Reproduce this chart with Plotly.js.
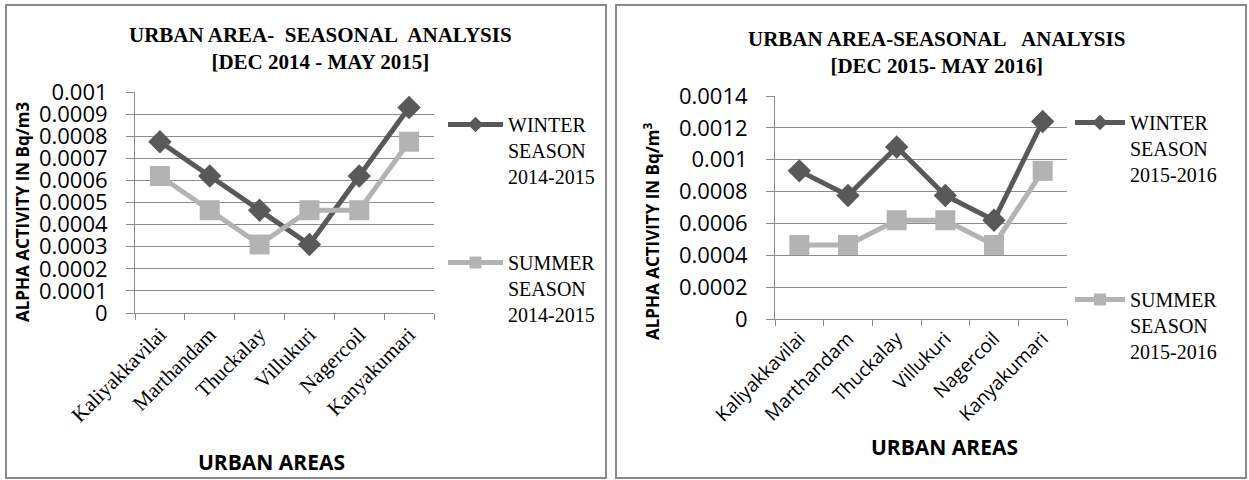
<!DOCTYPE html>
<html>
<head>
<meta charset="utf-8">
<script src="https://cdn.plot.ly/plotly-3.0.1.min.js"></script>
<style>html,body{margin:0;padding:0;background:#fff;}#chart{width:1249px;height:480px;}</style>
</head>
<body>
<div id="chart"></div>
<script>
// ---- data ----
var areas = ['Kaliyakkavilai', 'Marthandam', 'Thuckalay', 'Villukuri', 'Nagercoil', 'Kanyakumari'];
var winter1415 = [0.000775, 0.00062, 0.000465, 0.00031, 0.00062, 0.00093];
var summer1415 = [0.00062, 0.000465, 0.00031, 0.000465, 0.000465, 0.000775];
var winter1516 = [0.00093, 0.000775, 0.00108, 0.000775, 0.00062, 0.00124];
var summer1516 = [0.000465, 0.000465, 0.00062, 0.00062, 0.000465, 0.00093];
var names1 = ['WINTER<br>SEASON<br>2014-2015', 'SUMMER<br>SEASON<br>2014-2015'];
var names2 = ['WINTER<br>SEASON<br>2015-2016', 'SUMMER<br>SEASON<br>2015-2016'];
var titles = ['URBAN AREA-\u00a0 SEASONAL\u00a0 ANALYSIS<br>[DEC 2014 - MAY 2015]',
              'URBAN AREA-SEASONAL\u00a0\u00a0 ANALYSIS<br>[DEC 2015- MAY 2016]'];
var yTitles = ['ALPHA ACTIVITY IN Bq/m3', 'ALPHA ACTIVITY IN Bq/m<sup>3</sup>'];
var xTitle = 'URBAN AREAS';

// ---- styling ----
var W = 1249, H = 480;
var darkC = '#595959', lightC = '#b3b3b3', gridC = '#8c8c8c';
function px(x) { return x / W; }
function py(y) { return 1 - y / H; }

function mk(y, name, color, sym, size, xa, ya, leg, grp) {
  return {
    type: 'scatter', mode: 'lines+markers', x: areas, y: y, name: name,
    xaxis: xa, yaxis: ya, legend: leg, legendgroup: grp,
    line: {color: color, width: 5},
    marker: {color: color, symbol: sym, size: size}
  };
}

var traces = [
  mk(winter1415, names1[0], darkC, 'diamond', 18, 'x', 'y', 'legend', 'a'),
  mk(summer1415, names1[1], lightC, 'square', 20, 'x', 'y', 'legend', 'b'),
  mk(winter1516, names2[0], darkC, 'diamond', 18, 'x2', 'y2', 'legend2', 'c'),
  mk(summer1516, names2[1], lightC, 'square', 20, 'x2', 'y2', 'legend2', 'd')
];

function xax(domain, font) {
  return {
    domain: domain, type: 'category', range: [-0.5, 5.5], tickson: 'boundaries',
    ticks: 'outside', ticklen: 6, tickcolor: gridC, showline: true, linecolor: gridC, linewidth: 1,
    showgrid: false, zeroline: false, tickangle: -45, tickfont: font, automargin: false, fixedrange: true
  };
}
function yax(domain, range, dtick, anchor) {
  return {
    domain: domain, range: range, dtick: dtick, tick0: 0, anchor: anchor,
    showline: true, linecolor: gridC, linewidth: 1, showgrid: true, gridcolor: gridC, gridwidth: 1,
    zeroline: false, ticks: 'outside', ticklen: 8, tickcolor: gridC, ticklabelstandoff: 14,
    tickformat: '~g', exponentformat: 'none',
    tickfont: {family: 'Open Sans', size: 22, color: '#000'}, automargin: false, fixedrange: true
  };
}

var x1 = xax([px(135), px(434)], {family: 'Liberation Serif', size: 21, color: '#000'});
x1.anchor = 'y';
var x2 = xax([px(775), px(1067)], {family: 'Open Sans', size: 19, color: '#000'});
x2.anchor = 'y2';

var legFont = {family: 'Liberation Serif', size: 20, color: '#000'};

var layout = {
  width: W, height: H, margin: {l: 0, r: 0, t: 0, b: 0},
  paper_bgcolor: '#fff', plot_bgcolor: 'rgba(0,0,0,0)',
  showlegend: true,
  xaxis: x1,
  yaxis: yax([py(313), py(92)], [0, 0.001], 0.0001, 'x'),
  xaxis2: x2,
  yaxis2: yax([py(319), py(96)], [0, 0.0014], 0.0002, 'x2'),
  legend: {x: px(443), y: py(105), xanchor: 'left', yanchor: 'top', font: legFont, itemsizing: 'constant',
           traceorder: 'grouped', tracegroupgap: 57, valign: 'top', itemwidth: 55, bgcolor: 'rgba(0,0,0,0)'},
  legend2: {x: px(1070), y: py(103), xanchor: 'left', yanchor: 'top', font: legFont, itemsizing: 'constant',
            traceorder: 'grouped', tracegroupgap: 96, valign: 'top', itemwidth: 50, bgcolor: 'rgba(0,0,0,0)'},
  shapes: [
    {type: 'rect', xref: 'paper', yref: 'paper', x0: px(6), x1: px(606), y0: py(478), y1: py(5),
     line: {color: '#8a8a8a', width: 2}},
    {type: 'rect', xref: 'paper', yref: 'paper', x0: px(616), x1: px(1246), y0: py(478), y1: py(5),
     line: {color: '#8a8a8a', width: 2}}
  ],
  annotations: [
    {text: titles[0], xref: 'paper', yref: 'paper', x: px(320), y: py(49), showarrow: false,
     xanchor: 'center', yanchor: 'middle', font: {family: 'Liberation Serif', size: 21, color: '#000', weight: 'bold'}},
    {text: titles[1], xref: 'paper', yref: 'paper', x: px(936), y: py(53), showarrow: false,
     xanchor: 'center', yanchor: 'middle', font: {family: 'Liberation Serif', size: 21, color: '#000', weight: 'bold'}},
    {text: yTitles[0], xref: 'paper', yref: 'paper', x: px(22), y: py(212), showarrow: false, textangle: -90,
     xanchor: 'center', yanchor: 'middle', font: {family: 'Open Sans', size: 17, color: '#000', weight: 'bold'}},
    {text: yTitles[1], xref: 'paper', yref: 'paper', x: px(652), y: py(231), showarrow: false, textangle: -90,
     xanchor: 'center', yanchor: 'middle', font: {family: 'Open Sans', size: 17, color: '#000', weight: 'bold'}},
    {text: xTitle, xref: 'paper', yref: 'paper', x: px(271), y: py(462), showarrow: false,
     xanchor: 'center', yanchor: 'middle', font: {family: 'Open Sans', size: 21, color: '#000', weight: 'bold'}},
    {text: xTitle, xref: 'paper', yref: 'paper', x: px(944), y: py(447), showarrow: false,
     xanchor: 'center', yanchor: 'middle', font: {family: 'Open Sans', size: 21, color: '#000', weight: 'bold'}}
  ]
};

Plotly.newPlot('chart', traces, layout, {displayModeBar: false, staticPlot: true});
</script>
</body>
</html>
